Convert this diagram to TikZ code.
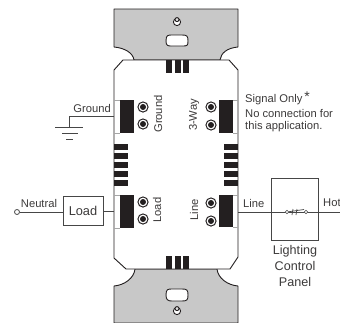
\documentclass[tikz,border=0pt]{standalone}
\usepackage{fontspec}
\setmainfont{Liberation Sans}
\definecolor{plate}{RGB}{200,200,200}
\definecolor{ink}{RGB}{35,31,32}
\definecolor{wire}{RGB}{70,70,70}
\definecolor{txt}{RGB}{60,58,58}
\tikzset{
  outline/.style={draw=ink,line width=0.9pt,line join=round},
  platefill/.style={outline,fill=plate},
  blackbar/.style={fill=ink,draw=none},
  wirel/.style={draw=wire,line width=0.8pt},
  graybar/.style={draw=gray!70,line width=0.8pt},
  lbl/.style={inner sep=0pt,text=txt,font=\fontsize{11.2}{13}\selectfont},
  boxn/.style={draw=wire,line width=0.8pt,fill=white,inner sep=0pt}
}
\newcommand{\screw}[2]{%
  \fill[ink] (#1,#2) circle (5.6);
  \fill[white] (#1,#2) circle (4.4);
  \fill[ink] (#1,#2) circle (3.0);}
\begin{document}
\begin{tikzpicture}[x=1pt,y=-1pt]
\useasboundingbox (0,0) rectangle (340,322);
% plates
\draw[platefill] (114,47) .. controls (125,48) and (133,53) .. (134,60) -- (220,60)
  .. controls (221,53) and (227,48) .. (238,47) -- (238,9) -- (114,9) -- cycle;
\draw[platefill] (135,269) .. controls (134,278) and (125,285) .. (114,286) -- (114,323) -- (238,323)
  -- (238,286) .. controls (227,285) and (218,278) .. (217,269) -- cycle;
% body
\draw[outline,fill=white] (123,60) -- (229,60) -- (238,70) -- (238,257) -- (230,269) -- (126,269) -- (114,258) -- (114,70) -- cycle;
% top / bottom bars
\foreach \x in {166,175,183}{
  \fill[blackbar] (\x,60) rectangle ++(6,13);
  \fill[blackbar] (\x,256) rectangle ++(6,13);
}
% side bars
\foreach \y in {144,153,162,171,180}{
  \fill[blackbar] (114,\y) rectangle ++(14,6);
  \fill[blackbar] (224,\y) rectangle ++(14,6);
}
% terminal blocks
\foreach \y/\h in {100/33,195/33}{
  \draw[graybar] (114,\y) -- (120,\y) (114,\y+\h) -- (120,\y+\h);
  \fill[blackbar] (120,\y) rectangle ++(14,\h);
}
\foreach \y/\h in {100/33,195/32}{
  \draw[graybar] (233,\y) -- (238,\y) (233,\y+\h) -- (238,\y+\h);
  \fill[blackbar] (219,\y) rectangle ++(14,\h);
}
% screws
\screw{143}{107}\screw{143}{124}
\screw{143}{202}\screw{143}{219}
\screw{211}{107}\screw{211}{125}
\screw{211}{203}\screw{211}{221}
% mounting holes
\draw[outline,fill=white] (177,22) circle (3.6);
\draw[outline,fill=plate!60] (177,19.6) circle (2);
\draw[outline,fill=white] (166,41) .. controls (166,35) and (168,35) .. (172,35) -- (182,35) .. controls (187,35) and (188,36) .. (188,41) .. controls (188,46) and (187,46) .. (182,46) -- (172,46) .. controls (168,46) and (166,46) .. (166,41) -- cycle;
\draw[outline,fill=white] (166,295) .. controls (166,289) and (168,289) .. (172,289) -- (182,289) .. controls (187,289) and (188,290) .. (188,295) .. controls (188,300) and (187,301) .. (182,301) -- (172,301) .. controls (168,301) and (166,300) .. (166,295) -- cycle;
\draw[outline,fill=white] (177,311) circle (3.6);
\draw[outline,fill=plate!60] (177,308.6) circle (2);
% terminal labels
\node[lbl,rotate=90] (tg) at (158,114) {Ground};
\node[lbl,rotate=90] (tw) at (194,115) {3-Way};
\node[lbl,rotate=90] (tl) at (157,210) {Load};
\node[lbl,rotate=90] (tn) at (194,210) {Line};
% ground
\coordinate (gndt) at (114,116);
\coordinate (gndc) at (69,116);
\coordinate (gndb) at (69,127);
\draw[wirel] (gndt) -- (gndc) -- (gndb);
\coordinate (g1a) at (55,127); \coordinate (g1b) at (83,127);
\coordinate (g2a) at (62,133); \coordinate (g2b) at (78,133);
\coordinate (g3a) at (66,139); \coordinate (g3b) at (73,139);
\draw[wirel] (g1a) -- (g1b) (g2a) -- (g2b) (g3a) -- (g3b);
\node[lbl,anchor=east] (ground) at (111,108) {Ground};
% load
\node[boxn,minimum width=40pt,minimum height=29pt] (load) at (83,211) {\fontsize{12.8}{14}\selectfont\color{txt}Load};
\coordinate (loadt) at (114,211);
\node[draw=wire,line width=0.8pt,circle,inner sep=0pt,minimum size=5pt,fill=white] (neut) at (17,212) {};
\draw[wirel] (neut) -- (load.west |- neut);
\draw[wirel] (load) -- (loadt);
\node[lbl] (neutral) at (39,203) {Neutral};
% panel
\node[boxn,minimum width=47pt,minimum height=62pt] (panel) at (294.5,209) {};
\coordinate (linet) at (238,212);
\coordinate (hotend) at (340,212);
\draw[wirel] (linet) -- (hotend);
\node[draw=wire,line width=0.6pt,circle,inner sep=0pt,minimum size=3.5pt,fill=white] (sa) at (287,212) {};
\node[draw=wire,line width=0.6pt,circle,inner sep=0pt,minimum size=3.5pt,fill=white] (sb) at (306,212) {};
\coordinate (s1a) at (293,209); \coordinate (s1b) at (292,215);
\coordinate (s2a) at (297,209); \coordinate (s2b) at (296,215);
\coordinate (s3) at (304,209.5);
\draw[wirel,line width=0.7pt] (s1a) -- (s1b) (s2a) -- (s2b) (sa) -- (s3);
\node[lbl,anchor=west] (line) at (243,203) {Line};
\node[lbl,anchor=west] (hot) at (323,203) {Hot};
\node[lbl,align=center,font=\fontsize{12.6}{16}\selectfont,anchor=north] (lcp) at (295,245.5) {Lighting\\Control\\Panel};
% note
\node[lbl,anchor=west] (sig) at (245,100) {Signal Only};
\node[lbl,font=\fontsize{14}{14}\selectfont,anchor=center] (star) at (307,97) {*};
\node[lbl,anchor=west] (noc) at (245,113.5) {No connection for};
\node[lbl,anchor=west] (app) at (245,127) {this application.};
\end{tikzpicture}
\end{document}
